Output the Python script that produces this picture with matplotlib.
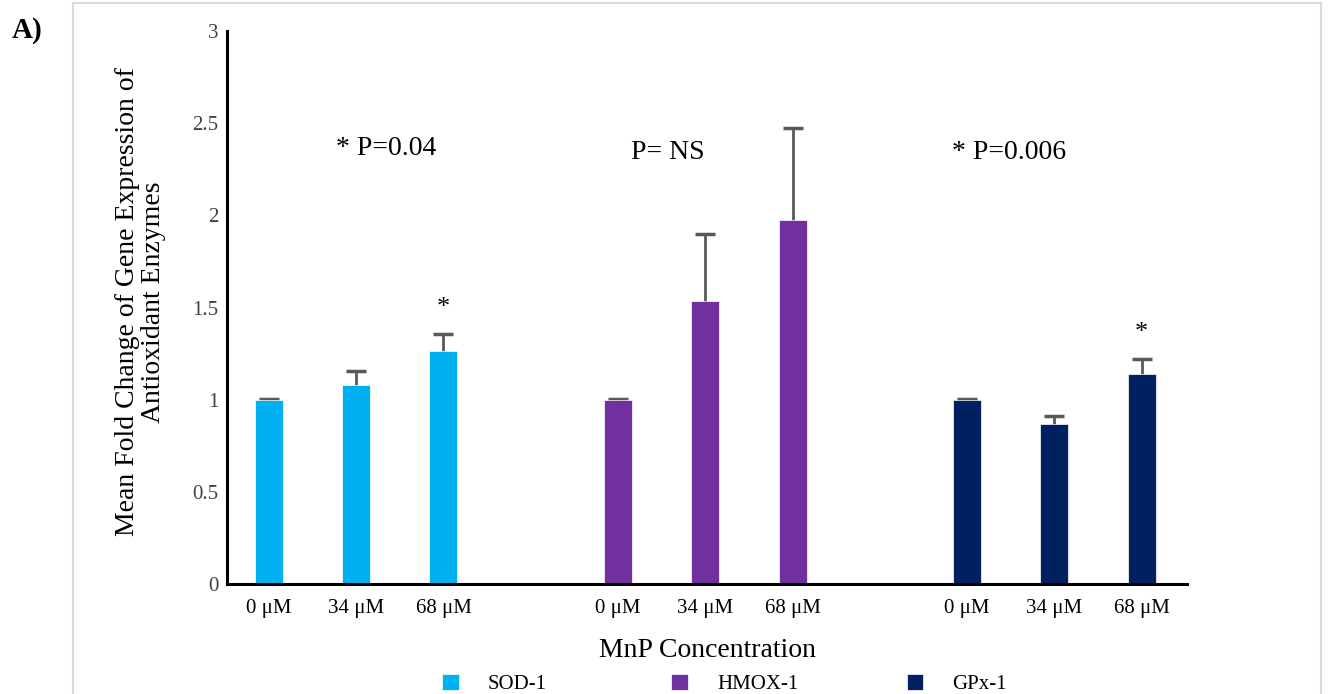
import matplotlib.pyplot as plt
from matplotlib.patches import Rectangle
import numpy as np

plt.rcParams['font.family'] = ['Liberation Serif', 'DejaVu Serif']

# data
genes = ['SOD-1', 'HMOX-1', 'GPx-1']
doses = ['0 μM', '34 μM', '68 μM']
colors = ['#00B0F0', '#7030A0', '#002060']
sod_mean = [1.0, 1.08, 1.265]
sod_err = [0.005, 0.075, 0.094]
hmox_mean = [1.0, 1.535, 1.975]
hmox_err = [0.005, 0.365, 0.50]
gpx_mean = [1.0, 0.868, 1.14]
gpx_err = [0.005, 0.045, 0.08]
p_labels = ['* P=0.04', 'P= NS', '* P=0.006']
p_x = [1.34, 4.57, 8.48]
p_y = [2.36, 2.34, 2.34]
starred = [True, False, True]   # star above 68 uM bar

means = [sod_mean, hmox_mean, gpx_mean]
errs = [sod_err, hmox_err, gpx_err]

fig = plt.figure(figsize=(13.29, 6.94), dpi=100)
ax = fig.add_axes([0.1708, 0.1585, 0.7224, 0.7968])

# outer grey frame
fig.patches.append(Rectangle((0.055, -0.01), 0.939, 1.0057, transform=fig.transFigure,
                             fill=False, edgecolor='#d9d9d9', linewidth=1.5))

handles = []
for g, (m, e, c) in enumerate(zip(means, errs, colors)):
    x = np.arange(3) + 4 * g
    b = ax.bar(x, m, width=0.32, color=c, edgecolor='white', linewidth=0.5, zorder=2)
    handles.append(b)
    # symmetric bars drawn under the bar -> only the plus side shows, like Excel
    ax.errorbar(x, m, yerr=e, fmt='none', ecolor='#595959',
                elinewidth=2, capsize=7, capthick=2.5, zorder=1)
    if starred[g]:
        ax.text(x[2], m[2] + e[2] + 0.14, '*', ha='center', va='center', fontsize=19)
    ax.text(p_x[g], p_y[g], p_labels[g], ha='center', va='center', fontsize=20)

ax.set_xticks(np.concatenate([np.arange(3) + 4 * g for g in range(3)]))
ax.set_xticklabels(doses * 3, fontsize=15)
ax.set_xlim(-0.48, 10.52)
ax.set_ylim(0, 3)
ax.set_yticks([0, 0.5, 1, 1.5, 2, 2.5, 3])
ax.set_yticklabels(['0', '0.5', '1', '1.5', '2', '2.5', '3'], fontsize=15, color='#404040')
ax.tick_params(length=0, pad=11)
ax.tick_params(axis='y', pad=6)

for s in ['top', 'right']:
    ax.spines[s].set_visible(False)
ax.spines['left'].set_linewidth(2.2)
ax.spines['bottom'].set_linewidth(2.2)

ax.set_ylabel('Mean Fold Change of Gene Expression of\nAntioxidant Enzymes', fontsize=20,
              linespacing=1.05)
ax.yaxis.set_label_coords(-0.064, 0.51)
ax.set_xlabel('MnP Concentration', fontsize=20, labelpad=14)

# legend entries placed like the Excel legend
leg_x = [0.372, 0.553, 0.72]
for h, name, lx in zip(handles, genes, leg_x):
    fig.legend([h], [name], loc='center', bbox_to_anchor=(lx, 0.014), frameon=False,
               fontsize=15, handlelength=0.8, handleheight=0.8, handletextpad=1.4)

fig.text(0.009, 0.945, 'A)', fontsize=21, fontweight='bold')

plt.savefig('out.png', dpi=100)
